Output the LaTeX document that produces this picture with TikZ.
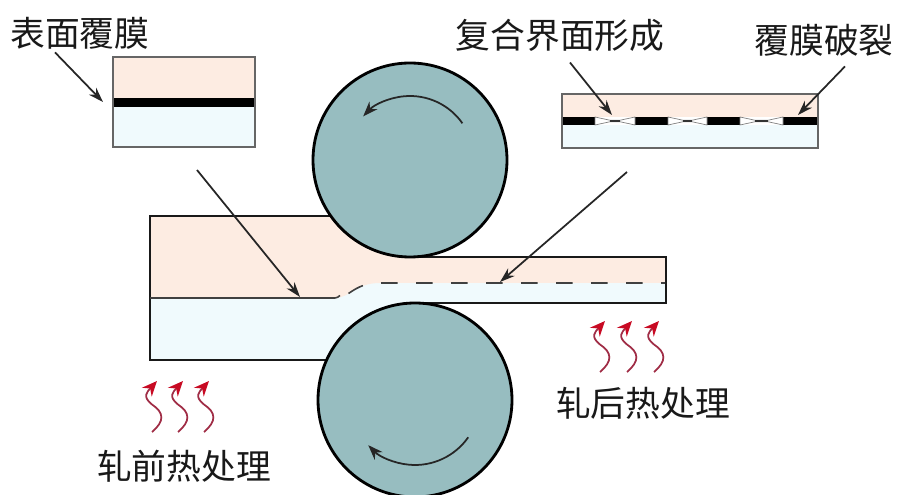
\documentclass[tikz,border=0pt]{standalone}
\usepackage{fontspec}
\setmainfont{Noto Sans CJK SC}
\usetikzlibrary{arrows.meta,positioning}

\definecolor{upperlayer}{RGB}{253,236,226}
\definecolor{lowerlayer}{RGB}{240,250,253}
\definecolor{rollfill}{RGB}{151,189,192}
\definecolor{heatred}{RGB}{160,45,70}
\definecolor{heathead}{RGB}{200,10,35}

\begin{document}
\begin{tikzpicture}[
    label/.style={font=\fontsize{19.8}{24}\selectfont, text=black!90, inner sep=0pt},
    pointer/.style={draw=black!85, line width=1pt, -{Stealth[length=3mm,width=2mm]}},
    roll/.style={fill=rollfill, draw=black, line width=1.6pt},
    spin/.style={draw=black!85, line width=1pt, -{Stealth[length=3mm,width=2.2mm]}},
    heat/.style={draw=heatred, line width=1pt, -{Stealth[length=3mm,width=2.6mm,color=heathead]}},
    inset/.style={draw=black!60, line width=0.7pt},
]
    \useasboundingbox (0,0) rectangle (18,9.9);

    % Strip: lower layer, then upper layer on top of it
    \fill[lowerlayer] (3,5.58) -- (6.616,5.58) arc[start angle=215.26,end angle=270,radius=1.94]
        -- (13.32,4.76) -- (13.32,3.84) -- (8.3,3.84) arc[start angle=90,end angle=155.64,radius=1.94]
        -- (3,2.7) -- cycle;
    \fill[upperlayer] (3,5.58) -- (6.616,5.58) arc[start angle=215.26,end angle=270,radius=1.94]
        -- (13.32,4.76) -- (13.32,4.24) -- (7.6,4.24) .. controls (7.1,4.24) and (7.0,3.94) .. (6.7,3.94)
        -- (3,3.94) -- cycle;
    \draw[black!90, line width=1.1pt] (3,5.58) -- (6.616,5.58) arc[start angle=215.26,end angle=270,radius=1.94]
        -- (13.32,4.76) -- (13.32,3.84) -- (8.3,3.84) arc[start angle=90,end angle=155.64,radius=1.94]
        -- (3,2.7) -- cycle;

    % Interface: flat before the gap, dashed after it
    \draw[black!75, line width=0.9pt] (3,3.94) -- (6.7,3.94) to[out=0,in=215] (6.8,3.99);
    \draw[black!75, line width=0.9pt, dash pattern=on 3.3mm off 3.7mm]
        (6.97,4.03) to[out=35,in=180] (7.6,4.24) -- (13.3,4.24);

    % Rolls
    \coordinate (topc) at (8.2,6.7);
    \coordinate (botc) at (8.3,1.9);
    \draw[roll] (topc) circle (1.94);
    \draw[roll] (botc) circle (1.94);
    \draw[spin] ([shift={(35:1.28)}]topc) arc[start angle=35,end angle=137,radius=1.28];
    \draw[spin] ([shift={(-35:1.3)}]botc) arc[start angle=-35,end angle=-136,radius=1.3];

    % Inset: film before rolling
    \fill[upperlayer] (2.26,7.94) rectangle (5.1,8.76);
    \fill[lowerlayer] (2.26,6.96) rectangle (5.1,7.76);
    \fill[black] (2.26,7.76) rectangle (5.1,7.94);
    \draw[inset] (2.26,6.96) rectangle (5.1,8.76);

    % Inset: film broken after rolling
    \fill[upperlayer] (11.24,7.56) rectangle (16.36,8.02);
    \fill[lowerlayer] (11.24,6.94) rectangle (16.36,7.4);
    \foreach \a/\b in {11.24/11.9, 12.7/13.36, 14.14/14.8, 15.66/16.36}
        \fill[black] (\a,7.4) rectangle (\b,7.56);
    \foreach \a/\b in {11.9/12.7, 13.36/14.14, 14.8/15.66} {
        \filldraw[fill=white, draw=black!50, line width=0.4pt] (\a,7.56) -- ({\a+0.3},7.495) -- ({\b-0.3},7.495)
            -- (\b,7.56) -- (\b,7.4) -- ({\b-0.3},7.465) -- ({\a+0.3},7.465) -- (\a,7.4) -- cycle;
        \draw[black!80, line width=0.7pt] ({\a+0.3},7.48) -- ({\b-0.3},7.48);
    }
    \draw[inset] (11.24,6.94) rectangle (16.36,8.02);

    % Labels and pointers
    \node[label] (coat) at (1.6,9.24) {表面覆膜};
    \node[label] (bond) at (11.2,9.2) {复合界面形成};
    \node[label] (crack) at (16.48,9.1) {覆膜破裂};
    \node[label] (preheat) at (3.68,0.58) {轧前热处理};
    \node[label] (postheat) at (12.86,1.84) {轧后热处理};

    \coordinate (coattip) at (2.06,7.86);
    \coordinate (bondtip) at (12.24,7.6);
    \coordinate (cracktip) at (15.96,7.6);
    \coordinate (coatref) at (3.94,6.5);
    \coordinate (coatline) at (6.0,3.96);
    \coordinate (bondref) at (12.54,6.46);
    \coordinate (bondline) at (10.0,4.26);

    \draw[pointer] ([xshift=-0.5cm,yshift=-0.06cm]coat.south) -- (coattip);
    \draw[pointer] ([xshift=0.2cm,yshift=-0.22cm]bond.south) -- (bondtip);
    \draw[pointer] ([xshift=0.42cm,yshift=-0.2cm]crack.south) -- (cracktip);
    \draw[pointer] (coatref) -- (coatline);
    \draw[pointer] (bondref) -- (bondline);

    % Heat before and after rolling
    \foreach \x in {3.04,3.56,4.08}
        \draw[heat] (\x,1.26) .. controls ++(0.26,0.22) and ++(0.24,-0.16) .. ++(0,0.55)
            .. controls ++(-0.2,0.16) and ++(-0.2,-0.22) .. ++(0.1,0.47);
    \foreach \x in {12.0,12.54,13.08}
        \draw[heat] (\x,2.46) .. controls ++(0.26,0.22) and ++(0.24,-0.16) .. ++(0,0.55)
            .. controls ++(-0.2,0.16) and ++(-0.2,-0.22) .. ++(0.1,0.47);
\end{tikzpicture}
\end{document}
